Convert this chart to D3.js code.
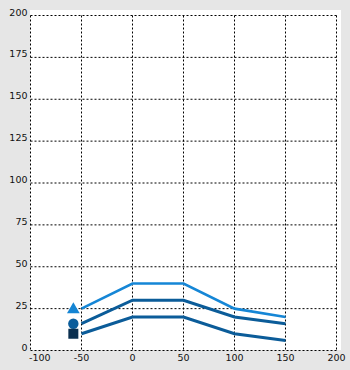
<!DOCTYPE html>
<html>
<head>
<meta charset="utf-8">
<script src="https://cdn.jsdelivr.net/npm/d3@7"></script>
<style>
  body { margin: 0; background: #e6e6e6; }
  svg { display: block; }
  .tick-label { font-family: "DejaVu Sans", sans-serif; font-size: 9.5px; fill: #111; }
</style>
</head>
<body>
<svg id="chart" width="350" height="370"></svg>
<script>
// dados
const xValues = [-50, 0, 50, 100, 150];
const seriesTop = [25, 40, 40, 25, 20];
const seriesMid = [16, 30, 30, 20, 16];
const seriesLow = [10, 20, 20, 10, 6];
const markerX = -58;
const xTicks = [-100, -50, 0, 50, 100, 150, 200];
const yTicks = [0, 25, 50, 75, 100, 125, 150, 175, 200];

const series = [
    { name: "top", values: seriesTop, color: "#1586d6", width: 2.6, marker: "triangle", markerColor: "#1585d4" },
    { name: "mid", values: seriesMid, color: "#0b5c99", width: 3, marker: "circle", markerColor: "#0b5d9b" },
    { name: "low", values: seriesLow, color: "#0b5c99", width: 3, marker: "square", markerColor: "#0b3050" }
];

const svg = d3.select("#chart");

// área branca do gráfico
svg.append("rect")
    .attr("x", 30).attr("y", 10)
    .attr("width", 311).attr("height", 340)
    .attr("fill", "#ffffff");

const x = d3.scaleLinear().domain([-100, 200]).range([30.5, 336.5]);
const y = d3.scaleLinear().domain([0, 200]).range([350.5, 15.5]);

// grade pontilhada
svg.append("g").selectAll("line").data(xTicks).join("line")
    .attr("x1", d => x(d)).attr("x2", d => x(d))
    .attr("y1", y(200)).attr("y2", y(0))
    .attr("stroke", "#000").attr("stroke-width", 1)
    .attr("stroke-dasharray", "2,2");

svg.append("g").selectAll("line").data(yTicks).join("line")
    .attr("x1", x(-100)).attr("x2", x(200))
    .attr("y1", d => y(d)).attr("y2", d => y(d))
    .attr("stroke", "#000").attr("stroke-width", 1)
    .attr("stroke-dasharray", "2,2");

// rótulos dos eixos
svg.append("g").selectAll("text").data(yTicks).join("text")
    .attr("class", "tick-label")
    .attr("x", 27.5)
    .attr("y", d => y(d))
    .attr("text-anchor", "end")
    .text(d => d);

svg.append("g").selectAll("text").data(xTicks).join("text")
    .attr("class", "tick-label")
    .attr("x", d => x(d))
    .attr("y", 361)
    .attr("text-anchor", "middle")
    .text(d => d)
    .each(function () {
        // evita que o primeiro rótulo saia para a esquerda
        const box = this.getBBox();
        if (box.x < 29) d3.select(this).attr("x", +d3.select(this).attr("x") + (29 - box.x));
    });

// linhas
const line = d3.line()
    .x((d, i) => x(xValues[i]))
    .y(d => y(d));

series.forEach(s => {
    svg.append("path")
        .datum(s.values)
        .attr("d", line)
        .attr("fill", "none")
        .attr("stroke", s.color)
        .attr("stroke-width", s.width)
        .attr("stroke-linejoin", "miter");
});

// marcadores à esquerda
const symbolTypes = { triangle: d3.symbolTriangle, circle: d3.symbolCircle, square: d3.symbolSquare };
series.forEach(s => {
    svg.append("path")
        .attr("d", d3.symbol().type(symbolTypes[s.marker]).size(s.marker === "square" ? 100 : (s.marker === "circle" ? 85 : 70))())
        .attr("transform", `translate(${x(markerX)},${y(s.values[0]) + (s.marker === "triangle" ? 1 : 0)})`)
        .attr("fill", s.markerColor);
});
</script>
</body>
</html>
